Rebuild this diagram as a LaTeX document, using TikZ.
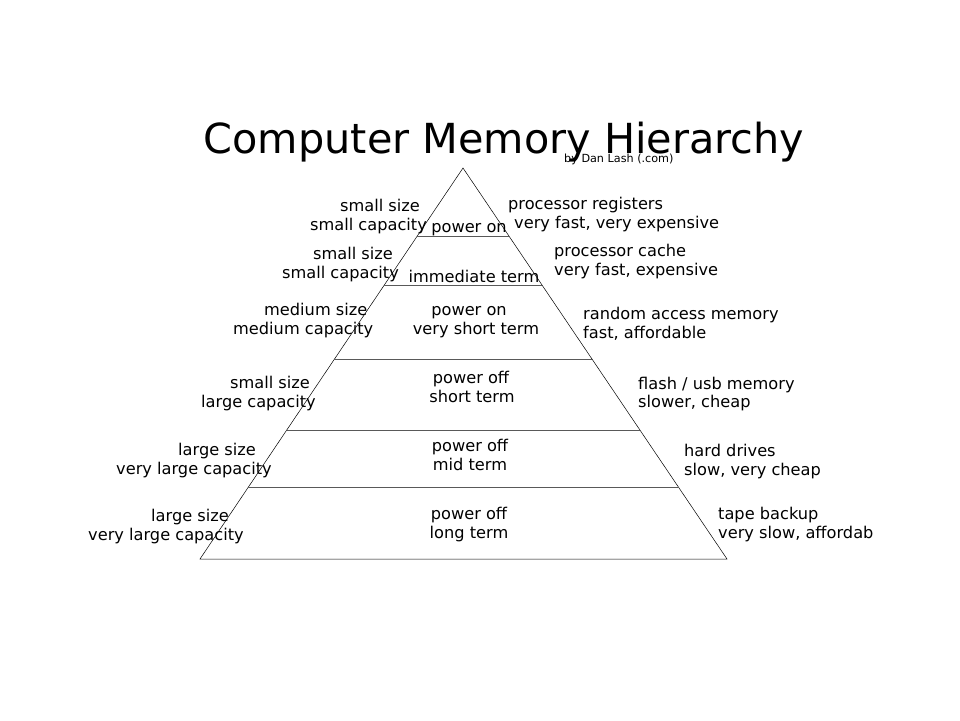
\documentclass[tikz,border=0pt]{standalone}
\usepackage{fontspec}
\setmainfont{DejaVu Sans}
\usetikzlibrary{calc}

\begin{document}
\begin{tikzpicture}[x=1pt,y=-1pt]
      \useasboundingbox(0,0) rectangle (960,720);
      \tikzset{T/.style = {inner sep=0pt, anchor=base west, font=\fontsize{16.2}{19}\selectfont}}
      \tikzset{C/.style = {inner sep=0pt, anchor=base, font=\fontsize{16.2}{19}\selectfont}}
      \tikzset{H/.style = {draw=black!65, line width=0.7pt}}
      % title
      \node[inner sep=0pt,anchor=base,font=\fontsize{41.4}{41}\selectfont](title) at (504,153) {Computer Memory Hierarchy};
      \node[inner sep=0pt,anchor=base west,font=\fontsize{11.2}{11}\selectfont](by) at (564,162) {by Dan Lash (.com)};
      % pyramid
      \coordinate (apex) at (463,168);
      \coordinate (bl) at (200,559);
      \coordinate (br) at (727,559);
      \draw[line width=0.5pt] (bl) -- (apex) -- (br) -- cycle;
      \draw[H] ($(apex)!0.1739!(bl)$) -- ($(apex)!0.1739!(br)$);
      \draw[H] ($(apex)!0.2992!(bl)$) -- ($(apex)!0.2992!(br)$);
      \draw[H] ($(apex)!0.4885!(bl)$) -- ($(apex)!0.4885!(br)$);
      \draw[H] ($(apex)!0.6701!(bl)$) -- ($(apex)!0.6701!(br)$);
      \draw[H] ($(apex)!0.8159!(bl)$) -- ($(apex)!0.8159!(br)$);
      % left side
      \node[T](l1a) at (340,211) {small size};
      \node[T](l1b) at (310,230) {small capacity};
      \node[T](l2a) at (313,259) {small size};
      \node[T](l2b) at (282,278) {small capacity};
      \node[T](l3a) at (264,315) {medium size};
      \node[T](l3b) at (233,334) {medium capacity};
      \node[T](l4a) at (230,388) {small size};
      \node[T](l4b) at (201,407) {large capacity};
      \node[T](l5a) at (178,455) {large size};
      \node[T](l5b) at (116,474) {very large capacity};
      \node[T](l6a) at (151,521) {large size};
      \node[T](l6b) at (88,540) {very large capacity};
      % middle
      \node[C](m1) at (469,232) {power on};
      \node[C](m2) at (474,282) {immediate term};
      \node[C](m3a) at (469,315) {power on};
      \node[C](m3b) at (476,334) {very short term};
      \node[C](m4a) at (471,383) {power off};
      \node[C](m4b) at (472,402) {short term};
      \node[C](m5a) at (470,451) {power off};
      \node[C](m5b) at (470,470) {mid term};
      \node[C](m6a) at (469,519) {power off};
      \node[C](m6b) at (469,538) {long term};
      % right side
      \node[T](r1a) at (508,209) {processor registers};
      \node[T](r1b) at (514,228) {very fast, very expensive};
      \node[T](r2a) at (554,256) {processor cache};
      \node[T](r2b) at (554,275) {very fast, expensive};
      \node[T](r3a) at (583,319) {random access memory};
      \node[T](r3b) at (583,338) {fast, affordable};
      \node[T](r4a) at (638,389) {flash / usb memory};
      \node[T](r4b) at (638,407) {slower, cheap};
      \node[T](r5a) at (684,456) {hard drives};
      \node[T](r5b) at (684,475) {slow, very cheap};
      \node[T](r6a) at (718,519) {tape backup};
      \node[T](r6b) at (718,538) {very slow, affordab};
\end{tikzpicture}
\end{document}
